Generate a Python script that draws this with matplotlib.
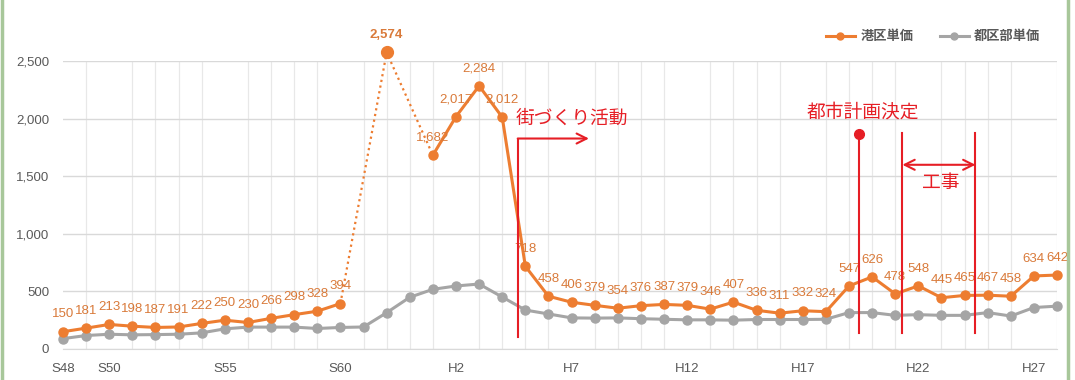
import matplotlib
matplotlib.use("Agg")
import matplotlib.pyplot as plt
from matplotlib.lines import Line2D

# years S48 (1973) .. H28 (2016)
years = list(range(1973, 2017))
tick_labels = ["S48", "S50", "S55", "S60", "H2", "H7", "H12", "H17", "H22", "H27"]

# 港区単価 (None = no data)
minato = [150, 181, 213, 198, 187, 191, 222, 250, 230, 266, 298, 328, 394,
          None, 2574, None, 1682, 2017, 2284, 2012, 718, 458, 406, 379, 354,
          376, 387, 379, 346, 407, 336, 311, 332, 324, 547, 626, 478, 548,
          445, 465, 467, 458, 634, 642]
# 都区部単価
tokubu = [90, 117, 128, 123, 125, 128, 140, 175, 190, 190, 190, 178, 187,
          191, 315, 449, 518, 547, 564, 451, 338, 304, 270, 268, 270, 263,
          258, 253, 253, 250, 256, 256, 256, 258, 316, 316, 292, 298, 292,
          292, 316, 286, 360, 372]


def era(y):
    return "S%d" % (y - 1925) if y < 1989 else "H%d" % (y - 1988)


labels = [era(y) for y in years]
x = list(range(len(years)))

ORANGE = "#ED7D31"
GRAY = "#A5A5A5"
LABEL = "#D97A3A"
RED = "#E61E25"
TXT = "#595959"

plt.rcParams["font.family"] = ["Liberation Sans", "Noto Sans CJK JP", "DejaVu Sans"]

fig = plt.figure(figsize=(10.75, 3.8), dpi=100)
ax = fig.add_axes([0.0586, 0.0816, 0.9247, 0.7579])

# gray series
ax.plot(x, tokubu, color=GRAY, lw=2.2, marker="o", ms=6.5, zorder=3, clip_on=False)

# orange solid part (from H1 onward) and the early part
start = 16
ax.plot(x[start:], minato[start:], color=ORANGE, lw=2.2, marker="o", ms=6.5,
        zorder=4, clip_on=False)
ax.plot(x[:13], minato[:13], color=ORANGE, lw=2.2, marker="o", ms=6.5,
        zorder=4, clip_on=False)
# dotted bridge across the gap years
dx = [i for i in range(12, 17) if minato[i] is not None]
ax.plot(dx, [minato[i] for i in dx], color=ORANGE, lw=1.6, ls=(0, (1, 1.6)),
        zorder=4, clip_on=False)
ax.plot([14], [minato[14]], color=ORANGE, marker="o", ms=8.5, ls="none",
        zorder=5, clip_on=False)

# data labels
for i, v in enumerate(minato):
    if v is None:
        continue
    bbox = dict(fc="white", ec="none", pad=1.5) if v > 2500 else None
    ax.annotate("{:,}".format(v), (i, v), xytext=(0, 12.5), textcoords="offset points",
                ha="center", va="center", fontsize=9.5, color=LABEL,
                family=["Liberation Sans Narrow", "Liberation Sans"],
                weight="bold" if v > 2500 else "normal", bbox=bbox,
                zorder=6, annotation_clip=False)

ax.set_xlim(0, len(years) - 1)
ax.set_ylim(0, 2500)
ax.set_yticks([0, 500, 1000, 1500, 2000, 2500])
ax.set_yticklabels(["{:,}".format(t) for t in [0, 500, 1000, 1500, 2000, 2500]])
ax.set_xticks(x, minor=True)
ax.set_xticks([labels.index(t) for t in tick_labels])
ax.set_xticklabels(tick_labels)
ax.grid(axis="x", which="minor", color="#E8E8E8", lw=0.9)
ax.grid(axis="y", which="major", color="#D9D9D9", lw=1.0)
ax.set_axisbelow(True)
for s in ["top", "right", "left"]:
    ax.spines[s].set_visible(False)
ax.spines["bottom"].set_color("#D9D9D9")
ax.tick_params(axis="both", which="both", length=0, colors=TXT, labelsize=9.5)
ax.tick_params(axis="x", pad=10)
ax.tick_params(axis="y", pad=10)

# annotations
kw = dict(color=RED, lw=1.5, zorder=7, clip_on=False)
arrow = dict(arrowstyle="->", color=RED, lw=1.5, mutation_scale=18, shrinkA=0, shrinkB=0)
# 街づくり活動
ax.plot([19.67, 19.67], [100, 1827], **kw)
ax.annotate("", xy=(22.75, 1827), xytext=(19.67, 1827), arrowprops=arrow)
ax.text(19.6, 2000, "街づくり活動", color=RED, fontsize=13.5, ha="left", va="center",
        family=["Noto Sans CJK JP"])
# 都市計画決定
ax.plot([34.45, 34.45], [143, 1870], **kw)
ax.plot([34.45], [1870], "o", color=RED, ms=7, zorder=8)
ax.text(34.58, 2054, "都市計画決定", color=RED, fontsize=13.5, ha="center", va="center",
        family=["Noto Sans CJK JP"])
# 工事
ax.plot([36.31, 36.31], [143, 1879], **kw)
ax.plot([39.47, 39.47], [143, 1879], **kw)
ax.annotate("", xy=(39.47, 1599), xytext=(36.31, 1599),
            arrowprops=dict(arrow, arrowstyle="<->"))
ax.text(37.95, 1441, "工事", color=RED, fontsize=13.5, ha="center", va="center",
        family=["Noto Sans CJK JP"])

# legend
handles = [Line2D([], [], color=ORANGE, lw=2.2, marker="o", ms=5),
           Line2D([], [], color=GRAY, lw=2.2, marker="o", ms=5)]
leg = ax.legend(handles, ["港区単価", "都区部単価"], loc="lower right",
                bbox_to_anchor=(0.995, 1.02), ncol=2, frameon=False,
                handlelength=2.2, columnspacing=2.0, handletextpad=0.4,
                prop=dict(family="Noto Sans CJK JP", size=9.5, weight="bold"))
for t in leg.get_texts():
    t.set_color(TXT)

# outer green border lines of the original frame
fig.add_artist(Line2D([0.002, 0.002], [0, 1], color="#A8C79A", lw=2.5))
fig.add_artist(Line2D([0.9935, 0.9935], [0, 1], color="#A8C79A", lw=2.5))

fig.savefig("out.png", dpi=100)
